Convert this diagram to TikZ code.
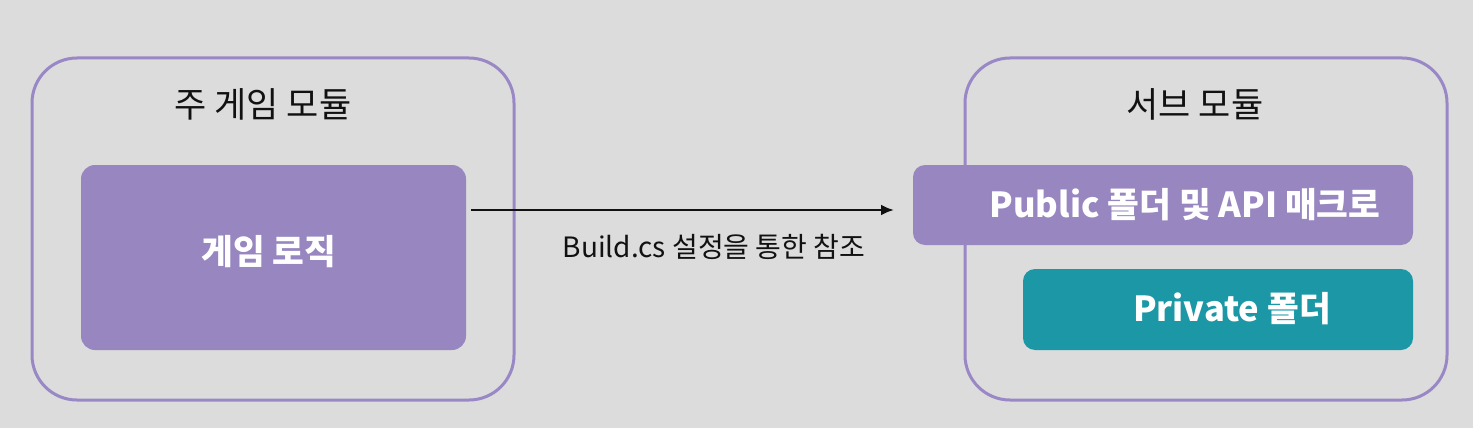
\documentclass[tikz,border=0pt]{standalone}
\usepackage{fontspec}
\usetikzlibrary{arrows.meta}
\setmainfont{Noto Sans CJK KR}
\definecolor{bg}{HTML}{DCDCDC}
\definecolor{border}{HTML}{9A88C6}
\definecolor{purp}{HTML}{9886C0}
\definecolor{teal}{HTML}{1B97A6}
\definecolor{ink}{HTML}{111111}
\tikzset{
  outerbox/.style={draw=border, line width=3pt, rounded corners=45pt},
  innerbox/.style={rounded corners=14pt, text=white, font=\fontsize{34.5}{40}\selectfont\bfseries},
  titletext/.style={text=ink, font=\fontsize{35}{40}\selectfont},
  labeltext/.style={text=ink, font=\fontsize{28}{32}\selectfont},
}
\begin{document}
\begin{tikzpicture}[x=1pt,y=1pt]
\fill[bg] (0,0) rectangle (1473,-428);
\useasboundingbox (0,0) rectangle (1473,-428);
\draw[outerbox] (32,-58) rectangle (514,-400);
\draw[outerbox] (965,-58) rectangle (1447,-400);
\node[titletext] (t1) at (263,-104) {주 게임 모듈};
\node[titletext] (t2) at (1195,-104) {서브 모듈};
\fill[purp, rounded corners=14pt] (81,-165) rectangle (466,-350);
\node[innerbox] (logic) at (269,-252) {게임 로직};
\coordinate (logicR) at (471,-210);
\fill[purp, rounded corners=12pt] (913,-165) rectangle (1413,-245);
\node[innerbox] (pub) at (1185,-205) {Public 폴더 및 API 매크로};
\coordinate (pubL) at (894,-210);
\fill[teal, rounded corners=12pt] (1023,-269) rectangle (1413,-350);
\node[innerbox] (priv) at (1232,-309) {Private 폴더};
\draw[ink, line width=2.6pt, -{Latex[length=13pt,width=11pt]}] (logicR) -- (pubL);
\node[labeltext] (lbl) at (714,-247) {Build.cs 설정을 통한 참조};
\end{tikzpicture}
\end{document}
